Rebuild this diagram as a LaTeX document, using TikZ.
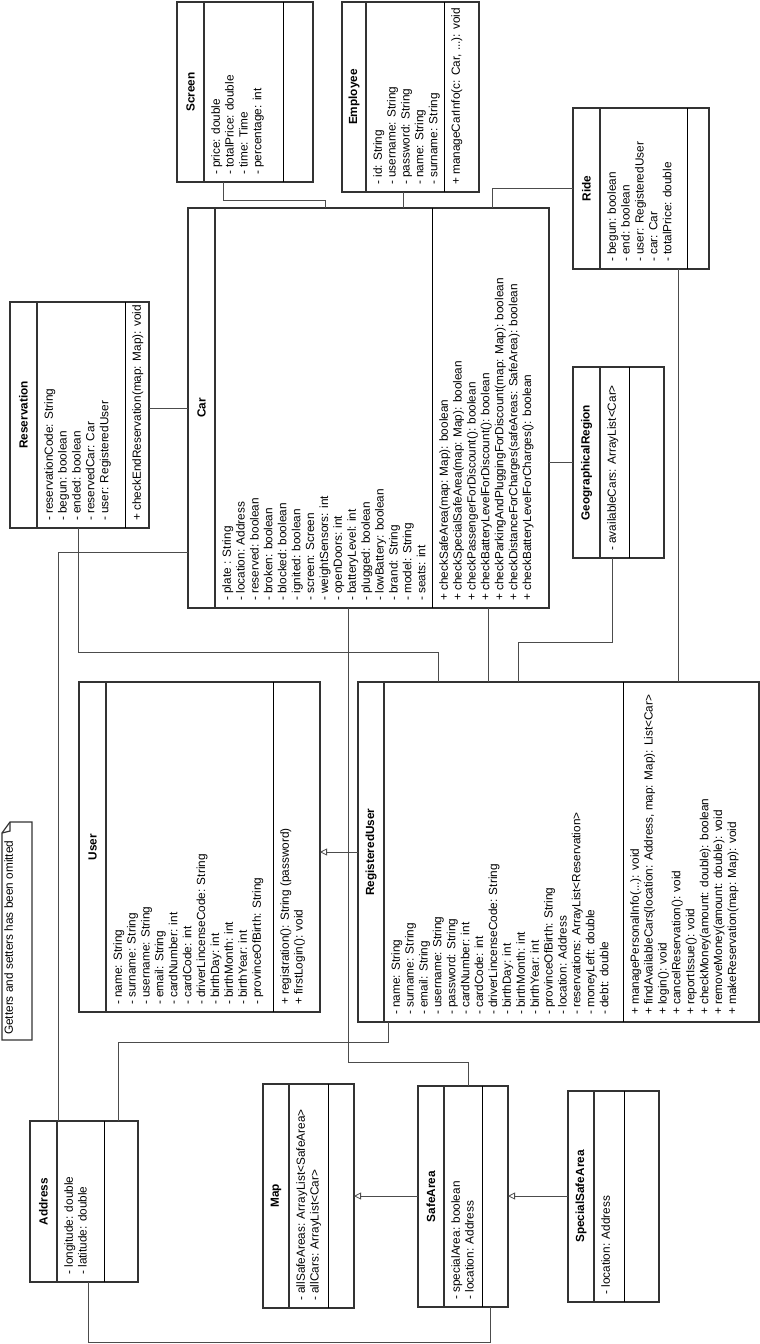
\documentclass[tikz,border=0pt]{standalone}
\usepackage{fontspec}
\setmainfont{Liberation Sans}
\usetikzlibrary{arrows.meta}

\tikzset{
  classbox/.style={draw=black!80, line width=1.6pt, outer sep=0pt, inner sep=0pt},
  titlerule/.style={draw=black!80, line width=1.6pt},
  memberrule/.style={draw=black, line width=0.9pt},
  classtitle/.style={rotate=90, font=\bfseries\fontsize{11.8}{13.9}\selectfont, inner sep=0pt},
  members/.style={rotate=90, anchor=north west, align=left, inner xsep=7pt, inner ysep=7pt, font=\fontsize{11.8}{13.9}\selectfont},
  assoc/.style={draw=black!70, line width=0.8pt},
  extends/.style={assoc, -{Triangle[open, length=7pt, width=7pt]}},
  notebox/.style={draw=black!80, line width=1.2pt},
}

% name, left, top, right, bottom, title rule, member rule
\newcommand{\umlclass}[7]{%
  \node[classbox, minimum width={#4-#2}, minimum height={#5-#3}] (#1) at ({(#2+#4)/2},{(#3+#5)/2}) {};
  \draw[titlerule] (#6,#3) -- (#6,#5);
  \draw[memberrule] (#7,#3) -- (#7,#5);
  \coordinate (#1 title) at ({(#2+#6)/2},{(#3+#5)/2});
  \coordinate (#1 attrs) at (#6,#5);
  \coordinate (#1 ops) at (#7,#5);
}

\begin{document}
\begin{tikzpicture}[x=1pt, y=-1pt]
  \useasboundingbox (0,0) rectangle (760,1344);

  \umlclass{reservation}{10}{302}{149}{528}{37}{125}
  \node[classtitle] at (reservation title) {Reservation};
  \node[members] at (reservation attrs) {- reservationCode: String\\- begun: boolean\\- ended: boolean\\- reservedCar: Car\\- user: RegisteredUser};
  \node[members] at (reservation ops) {+ checkEndReservation(map: Map): void};

  \umlclass{screen}{177}{2}{313}{182}{204}{283}
  \node[classtitle] at (screen title) {Screen};
  \node[members] at (screen attrs) {- price: double\\- totalPrice: double\\- time: Time\\- percentage: int};

  \umlclass{employee}{342}{2}{479}{192}{366}{444}
  \node[classtitle] at (employee title) {Employee};
  \node[members] at (employee attrs) {- id: String\\- username: String\\- password: String\\- name: String\\- surname: String};
  \node[members] at (employee ops) {+ manageCarInfo(c: Car, ...): void};

  \umlclass{ride}{573}{108}{709}{269}{600}{687}
  \node[classtitle] at (ride title) {Ride};
  \node[members] at (ride attrs) {- begun: boolean\\- end: boolean\\- user: RegisteredUser\\- car: Car\\- totalPrice: double};

  \umlclass{car}{188}{208}{549}{608}{215}{432}
  \node[classtitle] at (car title) {Car};
  \node[members] at (car attrs) {- plate : String\\- location: Address\\- reserved: boolean\\- broken: boolean\\- blocked: boolean\\- ignited: boolean\\- screen: Screen\\- weightSensors: int\\- openDoors: int\\- batteryLevel: int\\- plugged: boolean\\- lowBattery: boolean\\- brand: String\\- model: String\\- seats: int};
  \node[members] at (car ops) {+ checkSafeArea(map: Map): boolean\\+ checkSpecialSafeArea(map: Map): boolean\\+ checkPassengerForDiscount(): boolean\\+ checkBatteryLevelForDiscount(): boolean\\+ checkParkingAndPluggingForDiscount(map: Map): boolean\\+ checkDistanceForCharges(safeAreas: SafeArea): boolean\\+ checkBatteryLevelForCharges(): boolean};

  \umlclass{region}{573}{367}{664}{558}{600}{629}
  \node[classtitle] at (region title) {GeographicalRegion};
  \node[members] at (region attrs) {- availableCars: ArrayList<Car>};

  \umlclass{user}{79}{682}{320}{1012}{106}{273}
  \node[classtitle] at (user title) {User};
  \node[members] at (user attrs) {- name: String\\- surname: String\\- username: String\\- email: String\\- cardNumber: int\\- cardCode: int\\- driverLincenseCode: String\\- birthDay: int\\- birthMonth: int\\- birthYear: int\\- provinceOfBirth: String};
  \node[members] at (user ops) {+ registration(): String (password)\\+ firstLogin(): void};

  \umlclass{reguser}{358}{682}{759}{1022}{384}{623}
  \node[classtitle] at (reguser title) {RegisteredUser};
  \node[members] at (reguser attrs) {- name: String\\- surname: String\\- email: String\\- username: String\\- password: String\\- cardNumber: int\\- cardCode: int\\- driverLincenseCode: String\\- birthDay: int\\- birthMonth: int\\- birthYear: int\\- provinceOfBirth: String\\- location: Address\\- reservations: ArrayList<Reservation>\\- moneyLeft: double\\- debt: double};
  \node[members] at (reguser ops) {+ managePersonalInfo(...): void\\+ findAvailableCars(location: Address, map: Map): List<Car>\\+ login(): void\\+ cancelReservation(): void\\+ reportIssue(): void\\+ checkMoney(amount: double): boolean\\+ removeMoney(amount: double): void\\+ makeReservation(map: Map): void};

  \umlclass{address}{30}{1121}{138}{1282}{57}{104}
  \node[classtitle] at (address title) {Address};
  \node[members] at (address attrs) {- longitude: double\\- latitude: double};

  \umlclass{map}{263}{1084}{354}{1308}{289}{328}
  \node[classtitle] at (map title) {Map};
  \node[members] at (map attrs) {- allSafeAreas: ArrayList<SafeArea>\\- allCars: ArrayList<Car>};

  \umlclass{safearea}{418}{1086}{508}{1307}{444}{482}
  \node[classtitle] at (safearea title) {SafeArea};
  \node[members] at (safearea attrs) {- specialArea: boolean\\- location: Address};

  \umlclass{specialarea}{568}{1091}{659}{1302}{594}{624}
  \node[classtitle] at (specialarea title) {SpecialSafeArea};
  \node[members] at (specialarea attrs) {- location: Address};

  \draw[notebox] (10,822) -- (32,822) -- (32,1040) -- (2,1040) -- (2,833) -- cycle;
  \draw[notebox] (2,833) -- (10,831) -- (10,822);
  \node[members, inner xsep=5pt, inner ysep=2pt] (note) at (2,1040) {Getters and setters has been omitted};

  \draw[assoc] (screen.south -| 223,0) -- (223,200) -| (car.north -| 325,0);
  \draw[assoc] (employee.south -| 403,0) -- (car.north -| 403,0);
  \draw[assoc] (ride.west |- 0,188) -| (car.north -| 492,0);
  \draw[assoc] (reservation.east |- 0,408) -- (car.west |- 0,408);
  \draw[assoc] (car.east |- 0,462) -- (region.west |- 0,462);
  \draw[assoc] (car.west |- 0,552) -| (address.north -| 58,0);
  \draw[assoc] (reservation.south -| 78,0) -- (78,652) -| (reguser.north -| 438,0);
  \draw[assoc] (car.south -| 488,0) -- (reguser.north -| 488,0);
  \draw[assoc] (region.south -| 612,0) -- (612,642) -| (reguser.north -| 518,0);
  \draw[assoc] (ride.south -| 678,0) -- (reguser.north -| 678,0);
  \draw[assoc] (car.south -| 348,0) -- (348,1062) -| (safearea.north -| 468,0);
  \draw[assoc] (reguser.south -| 388,0) -- (388,1042) -| (address.north -| 118,0);
  \draw[assoc] (address.south -| 88,0) -- (88,1342) -| (safearea.south -| 490,0);
  \draw[extends] (reguser.west |- 0,852) -- (user.east |- 0,852);
  \draw[extends] (safearea.west |- 0,1196) -- (map.east |- 0,1196);
  \draw[extends] (specialarea.west |- 0,1196) -- (safearea.east |- 0,1196);
\end{tikzpicture}
\end{document}
